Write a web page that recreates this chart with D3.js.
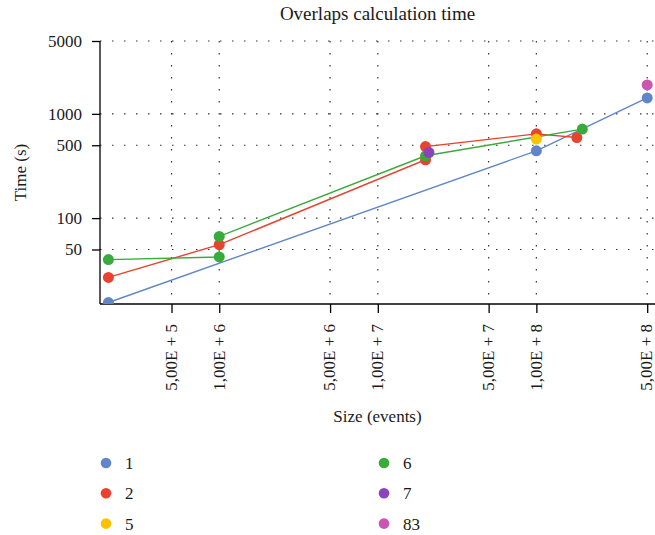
<!DOCTYPE html>
<html>
<head>
<meta charset="utf-8">
<script src="https://cdn.jsdelivr.net/npm/d3@7"></script>
<style>
  body { margin: 0; background: #fff; }
  svg text { font-family: "Liberation Serif", "DejaVu Serif", serif; fill: #1a1a1a; }
  .grid line { stroke: #333; stroke-width: 1.2; stroke-dasharray: 1.5,10.5; }
  .axis path, .axis line { stroke: #000; stroke-width: 1.3; }
</style>
</head>
<body>
<div id="chart"></div>
<script>
'use strict';

// series (legend order)
var seriesNames = ["1", "2", "5", "6", "7", "83"];
var seriesColors = ["#5f86c8", "#e8432f", "#fcc200", "#39ab3c", "#8b43bb", "#cc55b1"];

var size1 = [2e5, 1e8, 5e8];
var time1 = [15.5, 442, 1423];

var size2 = [2e5, 1e6, 2e7, 2e7, 1e8, 1.8e8];
var time2 = [27, 55.6, 363, 486, 643, 593];

var size5 = [1e8];
var time5 = [573];

var size6 = [2e5, 1e6, 1e6, 2e7, 1.95e8];
var time6 = [40, 42.4, 66.8, 396, 714];

var size7 = [2.1e7];
var time7 = [426];

var size83 = [5e8];
var time83 = [1897];

var xTicks = [5e5, 1e6, 5e6, 1e7, 5e7, 1e8, 5e8];
var xTickLabels = ["5,00E + 5", "1,00E + 6", "5,00E + 6", "1,00E + 7", "5,00E + 7", "1,00E + 8", "5,00E + 8"];
var yTicks = [50, 100, 500, 1000, 5000];

var allSizes = [size1, size2, size5, size6, size7, size83];
var allTimes = [time1, time2, time5, time6, time7, time83];

var W = 655, H = 535;
var plot = { left: 100, right: 655, top: 41, bottom: 304 };

var series = seriesNames.map(function(name, i) {
  return {
    name: name,
    color: seriesColors[i],
    points: allSizes[i].map(function(s, j) { return { x: s, y: allTimes[i][j] }; })
  };
});

var svg = d3.select("#chart").append("svg")
  .attr("width", W)
  .attr("height", H);

var x = d3.scaleLog().domain([1.77e5, 5.6e8]).range([plot.left, plot.right]);
var y = d3.scaleLog().domain([15, 5000]).range([plot.bottom, plot.top]);

// title
svg.append("text")
  .attr("x", (plot.left + plot.right) / 2)
  .attr("y", 20)
  .attr("text-anchor", "middle")
  .style("font-size", "19px")
  .text("Overlaps calculation time");

// dotted grid
var grid = svg.append("g").attr("class", "grid");
grid.selectAll(".gy").data(yTicks).enter().append("line")
  .attr("x1", plot.left).attr("x2", plot.right)
  .attr("y1", function(d) { return y(d); })
  .attr("y2", function(d) { return y(d); });
grid.selectAll(".gx").data(xTicks).enter().append("line")
  .attr("y1", plot.top).attr("y2", plot.bottom)
  .attr("x1", function(d) { return x(d); })
  .attr("x2", function(d) { return x(d); });

// axes
var yAxis = d3.axisLeft(y)
  .tickValues(yTicks)
  .tickFormat(d3.format("d"))
  .tickSize(8)
  .tickSizeOuter(0)
  .tickPadding(10);
var gy = svg.append("g")
  .attr("class", "axis")
  .attr("transform", "translate(" + plot.left + ",0)")
  .call(yAxis);
gy.selectAll("text").style("font-size", "17px").attr("font-family", null);

var xAxis = d3.axisBottom(x)
  .tickValues(xTicks)
  .tickFormat(function(d, i) { return xTickLabels[i]; })
  .tickSize(9)
  .tickSizeOuter(0);
var gx = svg.append("g")
  .attr("class", "axis")
  .attr("transform", "translate(0," + plot.bottom + ")")
  .call(xAxis);
gx.selectAll("text")
  .style("font-size", "17px")
  .attr("transform", "rotate(-90)")
  .attr("text-anchor", "end")
  .attr("x", -20)
  .attr("y", 0)
  .attr("dy", "0.28em");
gy.select(".domain").attr("d", "M0," + plot.top + "V" + plot.bottom);
gx.select(".domain").attr("d", "M" + plot.left + ",0H" + plot.right);

// axis titles
svg.append("text")
  .attr("x", (plot.left + plot.right) / 2)
  .attr("y", 422)
  .attr("text-anchor", "middle")
  .style("font-size", "17px")
  .text("Size (events)");

svg.append("text")
  .attr("transform", "translate(26," + ((plot.top + plot.bottom) / 2) + ") rotate(-90)")
  .attr("text-anchor", "middle")
  .style("font-size", "17px")
  .text("Time (s)");

// data
svg.append("clipPath").attr("id", "clip")
  .append("rect")
  .attr("x", plot.left).attr("y", plot.top - 20)
  .attr("width", plot.right - plot.left)
  .attr("height", plot.bottom - plot.top + 20);

var marks = svg.append("g").attr("clip-path", "url(#clip)");

var line = d3.line()
  .x(function(d) { return x(d.x); })
  .y(function(d) { return y(d.y); });

marks.selectAll(".line")
  .data(series.filter(function(s) { return s.points.length > 1; }))
  .enter().append("path")
  .attr("class", "line")
  .attr("fill", "none")
  .attr("stroke", function(d) { return d.color; })
  .attr("stroke-width", 1.4)
  .attr("d", function(d) { return line(d.points); });

series.forEach(function(s) {
  marks.selectAll(null)
    .data(s.points)
    .enter().append("circle")
    .attr("cx", function(d) { return x(d.x); })
    .attr("cy", function(d) { return y(d.y); })
    .attr("r", 5.5)
    .attr("fill", s.color);
});

// legend, two columns of three
var legend = svg.append("g");
var item = legend.selectAll("g")
  .data(series)
  .enter().append("g")
  .attr("transform", function(d, i) {
    var col = Math.floor(i / 3), row = i % 3;
    return "translate(" + (106 + col * 278) + "," + (463 + row * 30.3) + ")";
  });
item.append("circle")
  .attr("r", 5.3)
  .attr("fill", function(d) { return d.color; });
item.append("text")
  .attr("x", 19)
  .attr("dy", "0.35em")
  .style("font-size", "17px")
  .text(function(d) { return d.name; });
</script>
</body>
</html>
